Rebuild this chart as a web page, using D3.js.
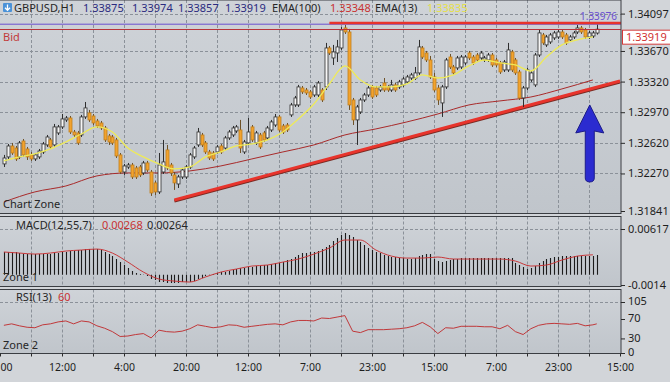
<!DOCTYPE html>
<html>
<head>
<meta charset="utf-8">
<script src="https://d3js.org/d3.v7.min.js"></script>
<style>
  html, body { margin: 0; padding: 0; background: #d2d5d9; }
  svg { display: block; font-family: "Noto Sans", "Open Sans", sans-serif; }
</style>
</head>
<body>
<svg id="chart" width="670" height="382"></svg>
<script>
// ---- data ----
// one row per H1 bar: [open, high, low, close]
const candles = [
  [1.32379,1.32482,1.32344,1.32447],[1.32459,1.32607,1.32436,1.32584],[1.32584,1.32619,1.32482,1.32504],[1.32561,1.32584,1.32413,1.32436],[1.32459,1.32641,1.32436,1.32619],
  [1.32641,1.32664,1.32459,1.32482],[1.32550,1.32573,1.32424,1.32459],[1.32482,1.32516,1.32413,1.32436],[1.32436,1.32504,1.32413,1.32482],[1.32459,1.32550,1.32436,1.32527],
  [1.32516,1.32630,1.32493,1.32607],[1.32596,1.32710,1.32573,1.32687],[1.32653,1.32676,1.32550,1.32573],[1.32596,1.32836,1.32573,1.32802],[1.32733,1.32824,1.32710,1.32802],
  [1.32802,1.32950,1.32779,1.32893],[1.32882,1.32927,1.32859,1.32904],[1.32904,1.32927,1.32721,1.32744],[1.32744,1.32767,1.32687,1.32710],[1.32733,1.32756,1.32596,1.32619],
  [1.32710,1.32939,1.32687,1.32916],[1.32916,1.33087,1.32893,1.33019],[1.32962,1.32996,1.32859,1.32882],[1.32927,1.32950,1.32824,1.32847],[1.32870,1.32893,1.32790,1.32813],
  [1.32847,1.32870,1.32767,1.32790],[1.32790,1.32813,1.32630,1.32653],[1.32699,1.32721,1.32596,1.32630],[1.32687,1.32710,1.32596,1.32619],[1.32653,1.32676,1.32447,1.32470],
  [1.32482,1.32504,1.32264,1.32287],[1.32287,1.32379,1.32253,1.32356],[1.32344,1.32390,1.32322,1.32367],[1.32367,1.32390,1.32207,1.32230],[1.32333,1.32356,1.32207,1.32230],
  [1.32344,1.32367,1.32230,1.32253],[1.32276,1.32413,1.32253,1.32390],[1.32390,1.32413,1.32287,1.32310],[1.32287,1.32310,1.32013,1.32047],[1.32162,1.32184,1.32024,1.32059],
  [1.32059,1.32504,1.32036,1.32367],[1.32287,1.32653,1.32264,1.32402],[1.32539,1.32596,1.32310,1.32333],[1.32367,1.32390,1.32242,1.32276],[1.32253,1.32287,1.32082,1.32162],
  [1.32150,1.32253,1.32104,1.32230],[1.32230,1.32333,1.32207,1.32310],[1.32230,1.32367,1.32207,1.32344],[1.32344,1.32504,1.32322,1.32482],[1.32459,1.32584,1.32436,1.32561],
  [1.32596,1.32790,1.32573,1.32744],[1.32710,1.32733,1.32573,1.32596],[1.32619,1.32641,1.32493,1.32516],[1.32516,1.32539,1.32424,1.32447],[1.32504,1.32527,1.32413,1.32436],
  [1.32516,1.32596,1.32493,1.32573],[1.32584,1.32607,1.32493,1.32516],[1.32561,1.32699,1.32539,1.32676],[1.32676,1.32767,1.32653,1.32744],[1.32710,1.32813,1.32687,1.32790],
  [1.32756,1.32824,1.32733,1.32802],[1.32767,1.32882,1.32504,1.32561],[1.32516,1.32653,1.32493,1.32630],[1.32619,1.32904,1.32596,1.32744],[1.32802,1.32824,1.32630,1.32653],
  [1.32619,1.32756,1.32596,1.32733],[1.32710,1.32733,1.32550,1.32573],[1.32733,1.32756,1.32630,1.32653],[1.32676,1.32813,1.32653,1.32790],[1.32767,1.32882,1.32744,1.32859],
  [1.32824,1.32950,1.32802,1.32916],[1.32916,1.32939,1.32744,1.32767],[1.32813,1.32836,1.32721,1.32744],[1.32824,1.32847,1.32744,1.32767],[1.32939,1.33076,1.32916,1.33053],
  [1.33053,1.33156,1.33030,1.33133],[1.33053,1.33282,1.33030,1.33259],[1.33247,1.33270,1.33179,1.33202],[1.33224,1.33247,1.33167,1.33190],[1.33202,1.33224,1.33122,1.33144],
  [1.33167,1.33282,1.33144,1.33259],[1.33167,1.33327,1.33144,1.33304],[1.33224,1.33247,1.33087,1.33110],[1.33259,1.33762,1.33224,1.33704],[1.33704,1.33727,1.33624,1.33647],
  [1.33590,1.33739,1.33510,1.33659],[1.33647,1.33796,1.33544,1.33716],[1.33704,1.33944,1.33682,1.33910],[1.33933,1.33967,1.33864,1.33887],[1.33887,1.33922,1.32996,1.33053],
  [1.33110,1.33133,1.32824,1.32882],[1.32882,1.33053,1.32596,1.33030],[1.32973,1.33133,1.32950,1.33110],[1.33110,1.33190,1.33087,1.33167],[1.33167,1.33270,1.33144,1.33247],
  [1.33259,1.33282,1.33122,1.33144],[1.33247,1.33270,1.33144,1.33167],[1.33224,1.33282,1.33202,1.33259],[1.33304,1.33361,1.33202,1.33224],[1.33259,1.33282,1.33202,1.33224],
  [1.33224,1.33339,1.33202,1.33282],[1.33282,1.33304,1.33202,1.33224],[1.33259,1.33339,1.33236,1.33316],[1.33282,1.33373,1.33259,1.33350],[1.33316,1.33396,1.33293,1.33373],
  [1.33361,1.33419,1.33339,1.33396],[1.33361,1.33487,1.33339,1.33419],[1.33419,1.33796,1.33396,1.33716],[1.33704,1.33727,1.33579,1.33601],[1.33647,1.33670,1.33544,1.33567],
  [1.33567,1.33613,1.33350,1.33373],[1.33373,1.33419,1.33202,1.33224],[1.33247,1.33282,1.33053,1.33110],[1.33076,1.33282,1.32916,1.33259],[1.33259,1.33590,1.33236,1.33567],
  [1.33601,1.33636,1.33464,1.33487],[1.33487,1.33510,1.33396,1.33419],[1.33476,1.33613,1.33453,1.33590],[1.33487,1.33624,1.33464,1.33601],[1.33533,1.33624,1.33510,1.33601],
  [1.33647,1.33670,1.33567,1.33590],[1.33601,1.33624,1.33510,1.33533],[1.33624,1.33647,1.33544,1.33567],[1.33590,1.33670,1.33567,1.33647],[1.33567,1.33613,1.33544,1.33590],
  [1.33567,1.33647,1.33544,1.33624],[1.33624,1.33647,1.33487,1.33510],[1.33567,1.33590,1.33487,1.33510],[1.33533,1.33556,1.33407,1.33430],[1.33453,1.33567,1.33430,1.33544],
  [1.33453,1.33762,1.33430,1.33682],[1.33659,1.33682,1.33430,1.33453],[1.33567,1.33590,1.33396,1.33419],[1.33430,1.33453,1.33110,1.33133],[1.33133,1.33270,1.33030,1.33247],
  [1.33247,1.33476,1.33224,1.33453],[1.33339,1.33441,1.33316,1.33419],[1.33282,1.33647,1.33259,1.33624],[1.33624,1.33910,1.33601,1.33876],[1.33853,1.33876,1.33739,1.33762],
  [1.33739,1.33853,1.33716,1.33830],[1.33773,1.33876,1.33750,1.33853],[1.33819,1.33899,1.33796,1.33876],[1.33830,1.33910,1.33807,1.33887],[1.33887,1.33910,1.33807,1.33830],
  [1.33853,1.33876,1.33739,1.33762],[1.33796,1.33853,1.33773,1.33830],[1.33830,1.33899,1.33807,1.33876],[1.33887,1.33967,1.33864,1.33933],[1.33933,1.33956,1.33864,1.33887],
  [1.33910,1.33933,1.33807,1.33830],[1.33830,1.33899,1.33807,1.33876],[1.33841,1.33899,1.33819,1.33876],[1.33875,1.33974,1.33857,1.33919]
];

// EMA(13), read every 4th bar
const ema13 = [1.32413,1.32459,1.32493,1.32550,1.32630,1.32721,1.32802,1.32744,1.32561,1.32459,
  1.32379,1.32322,1.32344,1.32459,1.32516,1.32584,1.32607,1.32653,1.32744,1.32893,
  1.33064,1.33293,1.33499,1.33339,1.33259,1.33259,1.33293,1.33396,1.33361,1.33396,
  1.33499,1.33567,1.33533,1.33510,1.33441,1.33601,1.33739,1.33796,1.33830];
const ema13Step = 4;

// EMA(100), read every 8th bar
const ema100 = [1.31944,1.32059,1.32127,1.32242,1.32276,1.32276,1.32299,1.32356,1.32436,1.32516,
  1.32596,1.32710,1.32779,1.32859,1.32950,1.33053,1.33099,1.33144,1.33236,1.33339];
const ema100Step = 8;

// MACD(12,55,7) histogram, one per bar
const macdHist = [
  0.00306,0.00306,0.00306,0.00306,0.00292,0.00278,0.00278,0.00278,0.00278,0.00278,
  0.00278,0.00278,0.00278,0.00292,0.00292,0.00306,0.00306,0.00319,0.00319,0.00333,
  0.00333,0.00346,0.00346,0.00346,0.00346,0.00333,0.00306,0.00278,0.00251,0.00211,
  0.00170,0.00130,0.00089,0.00049,0.00022,0.00008,-0.00005,-0.00019,-0.00059,-0.00073,
  -0.00100,-0.00100,-0.00114,-0.00114,-0.00114,-0.00114,-0.00100,-0.00100,-0.00100,-0.00087,
  -0.00059,-0.00046,-0.00019,-0.00005,0.00008,0.00022,0.00035,0.00035,0.00049,0.00062,
  0.00076,0.00089,0.00089,0.00103,0.00103,0.00116,0.00116,0.00130,0.00130,0.00143,
  0.00157,0.00157,0.00170,0.00197,0.00211,0.00238,0.00265,0.00292,0.00292,0.00306,
  0.00306,0.00319,0.00346,0.00373,0.00400,0.00454,0.00495,0.00535,0.00562,0.00535,
  0.00508,0.00468,0.00441,0.00400,0.00360,0.00333,0.00306,0.00292,0.00265,0.00251,
  0.00238,0.00238,0.00224,0.00224,0.00211,0.00211,0.00224,0.00251,0.00265,0.00278,
  0.00278,0.00211,0.00184,0.00170,0.00184,0.00197,0.00211,0.00211,0.00224,0.00224,
  0.00224,0.00224,0.00224,0.00224,0.00224,0.00224,0.00224,0.00224,0.00224,0.00224,
  0.00224,0.00224,0.00157,0.00130,0.00103,0.00076,0.00089,0.00116,0.00157,0.00184,
  0.00211,0.00224,0.00238,0.00238,0.00251,0.00251,0.00251,0.00251,0.00251,0.00251,
  0.00251,0.00251,0.00251,0.00264
];

// MACD signal line, read every 4th bar
const macdSignal = [0.00306,0.00292,0.00278,0.00292,0.00319,0.00333,0.00346,0.00292,0.00170,0.00035,
  -0.00059,-0.00087,-0.00100,-0.00032,0.00035,0.00076,0.00116,0.00130,0.00170,0.00211,
  0.00278,0.00360,0.00468,0.00468,0.00333,0.00251,0.00224,0.00224,0.00238,0.00211,
  0.00211,0.00211,0.00211,0.00184,0.00116,0.00130,0.00197,0.00251,0.00268];
const signalStep = 4;

// RSI(13), read every 2nd bar (last point is the last bar)
const rsi = [57,60,56,53,52,58,60,64,66,60, 66,64,56,51,44,34,35,38,40,31,
  47,44,43,45,50,58,55,52,54,58, 57,53,55,57,59,60,58,64,67,67,
  66,72,71,74,77,45,42,48,48,48, 49,50,52,56,63,54,40,52,51,55,
  55,55,54,54,50,57,44,38,50,57, 60,61,60,59,61,56,58,60];
const rsiStep = 2;

// axis ticks
const priceTicks = [1.34097, 1.33670, 1.33320, 1.32970, 1.32620, 1.32270, 1.31841];
const macdTicks = [0.00617, -0.0014];
const macdTickLabels = ["0.00617", "-0.0014"];
const rsiTicks = [105, 70, 30, 0];
const timeTicks = d3.range(0, 21).map(k => k * 8 - 1);   // one grid line every 8 bars
const timeLabels = ["00","12:00","4:00","20:00","12:00","7:00","23:00","15:00","7:00","23:00","15:00"];

// price lines and drawn objects (in price / bar units)
const bidPrice = 1.33919;
const highMark = 1.33976;
const resistance = { from: 84, price: 1.33990 };
const trendLine = [[44, 1.31967], [159, 1.33327]];
const arrow = { bar: 151.2, tip: 1.33053, tail: 1.32173 };

// ---- layout ----
const svg = d3.select("#chart");
const plotRight = 621;
const panes = {
  main: { top: 0, bottom: 213.5 },
  macd: { top: 216.5, bottom: 286.5 },
  rsi: { top: 289.5, bottom: 353.5 }
};

const x = d3.scaleLinear().domain([-1, 159]).range([0, 620]);
const yPrice = d3.scaleLinear().domain([1.31841, 1.34097]).range([211, 13.6]);
const yMacd = d3.scaleLinear().domain([-0.0014, 0.00617]).range([285, 229]);
const yRsi = d3.scaleLinear().domain([0, 105]).range([353, 302]);

// gradient for pane backgrounds
const defs = svg.append("defs");
const grad = defs.append("linearGradient").attr("id", "paneBg").attr("x1", 0).attr("y1", 0).attr("x2", 0).attr("y2", 1);
grad.append("stop").attr("offset", "0%").attr("stop-color", "#cfd3d8");
grad.append("stop").attr("offset", "100%").attr("stop-color", "#c0c5cb");

Object.entries(panes).forEach(([name, p]) => {
  defs.append("clipPath").attr("id", "clip-" + name)
    .append("rect").attr("x", 0).attr("y", p.top).attr("width", plotRight).attr("height", p.bottom - p.top);
  svg.append("rect")
    .attr("x", 0).attr("y", p.top)
    .attr("width", plotRight).attr("height", p.bottom - p.top)
    .attr("fill", "url(#paneBg)");
});

// grid lines
const grid = svg.append("g").attr("stroke", "#8b9199").attr("stroke-dasharray", "3,2").attr("stroke-width", 1);
Object.values(panes).forEach(p => {
  grid.selectAll(null)
    .data(timeTicks.slice(1, -1))
    .enter().append("line")
    .attr("x1", d => Math.round(x(d)) + 0.5).attr("x2", d => Math.round(x(d)) + 0.5)
    .attr("y1", p.top).attr("y2", p.bottom);
});
grid.selectAll(null).data(priceTicks.slice(0, -1)).enter().append("line")
  .attr("x1", 0).attr("x2", plotRight)
  .attr("y1", d => Math.round(yPrice(d)) + 0.5).attr("y2", d => Math.round(yPrice(d)) + 0.5);
grid.append("line").attr("x1", 0).attr("x2", plotRight)
  .attr("y1", Math.round(yMacd(macdTicks[0])) + 0.5).attr("y2", Math.round(yMacd(macdTicks[0])) + 0.5);
grid.append("line").attr("x1", 0).attr("x2", plotRight)
  .attr("y1", Math.round(yRsi(rsiTicks[0])) + 0.5).attr("y2", Math.round(yRsi(rsiTicks[0])) + 0.5);

// ---- main pane ----
const main = svg.append("g").attr("clip-path", "url(#clip-main)");

// EMA(100)
main.append("path")
  .datum(ema100)
  .attr("fill", "none").attr("stroke", "#a82a2a").attr("stroke-width", 1)
  .attr("d", d3.line().x((d, i) => x(i * ema100Step)).y(d => yPrice(d)).curve(d3.curveMonotoneX));

// trend line under candles
main.append("line")
  .attr("x1", x(trendLine[0][0])).attr("y1", yPrice(trendLine[0][1]) + 1)
  .attr("x2", x(trendLine[1][0])).attr("y2", yPrice(trendLine[1][1]) + 1)
  .attr("stroke", "#7a2a22").attr("stroke-width", 3);
main.append("line")
  .attr("x1", x(trendLine[0][0])).attr("y1", yPrice(trendLine[0][1]))
  .attr("x2", x(trendLine[1][0])).attr("y2", yPrice(trendLine[1][1]))
  .attr("stroke", "#e8342c").attr("stroke-width", 3);

// candles
const bars = main.append("g").selectAll("g").data(candles).enter().append("g");
bars.append("line")
  .attr("x1", (d, i) => Math.round(x(i)) + 0.5).attr("x2", (d, i) => Math.round(x(i)) + 0.5)
  .attr("y1", d => yPrice(d[1])).attr("y2", d => yPrice(d[2]))
  .attr("stroke", d => d[3] >= d[0] ? "#2e2e2e" : "#6e5228").attr("stroke-width", 1);
bars.append("rect")
  .attr("x", (d, i) => Math.round(x(i)) - 1)
  .attr("width", 3)
  .attr("y", d => yPrice(Math.max(d[0], d[3])))
  .attr("height", d => Math.max(1, Math.abs(yPrice(d[0]) - yPrice(d[3]))))
  .attr("fill", d => d[3] >= d[0] ? "#f6f6f6" : "#f2a32e")
  .attr("stroke", d => d[3] >= d[0] ? "#2e2e2e" : "#c07e1c")
  .attr("stroke-width", 0.8);

// EMA(13)
main.append("path")
  .datum(ema13)
  .attr("fill", "none").attr("stroke", "#eeea58").attr("stroke-width", 1.3)
  .attr("d", d3.line().x((d, i) => x(i * ema13Step)).y(d => yPrice(d)).curve(d3.curveMonotoneX));

// price lines
main.append("line")
  .attr("x1", 0).attr("x2", plotRight)
  .attr("y1", yPrice(highMark)).attr("y2", yPrice(highMark))
  .attr("stroke", "#6a4fd0").attr("stroke-width", 1);
main.append("line")
  .attr("x1", x(resistance.from)).attr("x2", plotRight)
  .attr("y1", yPrice(resistance.price)).attr("y2", yPrice(resistance.price))
  .attr("stroke", "#e8342c").attr("stroke-width", 2.5);
main.append("line")
  .attr("x1", 0).attr("x2", plotRight)
  .attr("y1", Math.round(yPrice(bidPrice)) + 0.5).attr("y2", Math.round(yPrice(bidPrice)) + 0.5)
  .attr("stroke", "#b8333a").attr("stroke-width", 1);

// blue arrow
const ax = x(arrow.bar), tipY = yPrice(arrow.tip), tailY = yPrice(arrow.tail);
main.append("path")
  .attr("d", `M${ax},${tipY} L${ax + 14},${tipY + 28} L${ax + 4.5},${tipY + 26} L${ax + 4.5},${tailY - 4}
    Q${ax + 4.5},${tailY} ${ax},${tailY} Q${ax - 4.5},${tailY} ${ax - 4.5},${tailY - 4}
    L${ax - 4.5},${tipY + 26} L${ax - 14},${tipY + 28} Z`)
  .attr("fill", "#2b2bd0").attr("stroke", "#1c1c8a").attr("stroke-width", 1).attr("stroke-linejoin", "round");

// ---- MACD pane ----
const macdG = svg.append("g").attr("clip-path", "url(#clip-macd)");
macdG.selectAll("line").data(macdHist).enter().append("line")
  .attr("x1", (d, i) => Math.round(x(i)) + 0.5).attr("x2", (d, i) => Math.round(x(i)) + 0.5)
  .attr("y1", yMacd(0)).attr("y2", d => yMacd(d))
  .attr("stroke", "#1b1b1b").attr("stroke-width", 1.1);
macdG.append("path")
  .datum(macdSignal)
  .attr("fill", "none").attr("stroke", "#c8383a").attr("stroke-width", 1)
  .attr("d", d3.line().x((d, i) => x(i * signalStep)).y(d => yMacd(d)).curve(d3.curveMonotoneX));

// ---- RSI pane ----
svg.append("g").attr("clip-path", "url(#clip-rsi)").append("path")
  .datum(rsi)
  .attr("fill", "none").attr("stroke", "#c0383a").attr("stroke-width", 1)
  .attr("d", d3.line().x((d, i) => x(Math.min(i * rsiStep, candles.length - 1))).y(d => yRsi(d)));

// ---- frames ----
Object.values(panes).forEach(p => {
  svg.append("rect")
    .attr("x", -1).attr("y", p.top)
    .attr("width", plotRight + 1).attr("height", p.bottom - p.top)
    .attr("fill", "none").attr("stroke", "#3a3d42").attr("stroke-width", 1);
});

// ---- axes ----
function styleAxis(g) {
  g.select(".domain").remove();
  g.selectAll(".tick line").attr("stroke", "#2a2a2a");
  g.selectAll(".tick text").attr("fill", "#1e1e1e").style("font-size", "11px")
    .style("font-family", '"Noto Sans", "Open Sans", sans-serif');
}
svg.append("g").attr("transform", `translate(${plotRight},0)`)
  .call(d3.axisRight(yPrice).tickValues(priceTicks).tickSize(4).tickPadding(3).tickFormat(d3.format(".5f")))
  .call(styleAxis);
svg.append("g").attr("transform", `translate(${plotRight},0)`)
  .call(d3.axisRight(yMacd).tickValues(macdTicks).tickSize(4).tickPadding(3).tickFormat((d, i) => macdTickLabels[i]))
  .call(styleAxis);
svg.append("g").attr("transform", `translate(${plotRight},0)`)
  .call(d3.axisRight(yRsi).tickValues(rsiTicks).tickSize(4).tickPadding(3))
  .call(styleAxis)
  .selectAll(".tick text").attr("dy", "0.25em");
const xAxis = svg.append("g").attr("transform", `translate(0,${panes.rsi.bottom})`)
  .call(d3.axisBottom(x).tickValues(timeTicks).tickSize(3).tickPadding(7)
    .tickFormat((d, i) => i % 2 === 0 ? timeLabels[i / 2] : ""))
  .call(styleAxis);
xAxis.selectAll(".tick text").style("font-size", "10.5px");
xAxis.select(".tick text").attr("text-anchor", "start").attr("x", 0);

// bid label box on the price scale
const bidY = yPrice(bidPrice);
svg.append("rect")
  .attr("x", 622.5).attr("y", bidY + 1).attr("width", 48).attr("height", 14)
  .attr("fill", "#ffffff").attr("stroke", "#d43a3a").attr("stroke-width", 1);
svg.append("text").attr("x", 626).attr("y", bidY + 12)
  .attr("fill", "#d03232").style("font-size", "11px").text(d3.format(".5f")(bidPrice));
svg.append("text").attr("x", 617).attr("y", yPrice(highMark) - 4).attr("text-anchor", "end")
  .attr("fill", "#6a4fd0").style("font-size", "10px").text(d3.format(".5f")(highMark));

// ---- header and zone labels ----
const hdr = svg.append("g").style("font-size", "11px");
const icon = hdr.append("g").attr("transform", "translate(3,3)");
icon.append("rect").attr("width", 9).attr("height", 9).attr("rx", 1).attr("fill", "#4b92d8");
icon.append("path").attr("d", "M4.5,1.5 V7 M2,4.8 L4.5,7.3 L7,4.8").attr("stroke", "#fff").attr("stroke-width", 1.3).attr("fill", "none");

const headerItems = [
  { text: "GBPUSD,H1", x: 14, fill: "#262626" },
  { text: "1.33875", x: 83, fill: "#2b2b80" },
  { text: "1.33974", x: 132, fill: "#2b2b80" },
  { text: "1.33857", x: 178, fill: "#2b2b80" },
  { text: "1.33919", x: 225, fill: "#2b2b80" },
  { text: "EMA(100)", x: 272, fill: "#262626" },
  { text: "1.33348", x: 330, fill: "#c83232" },
  { text: "EMA(13)", x: 375, fill: "#262626" },
  { text: "1.33835", x: 427, fill: "#e6e04a" }
];
hdr.selectAll("text.h").data(headerItems).enter().append("text")
  .attr("x", d => d.x).attr("y", 12).attr("fill", d => d.fill).text(d => d.text);

const paneLabels = [
  { text: "Bid", x: 3, y: 41, fill: "#c23a3a" },
  { text: "Chart Zone", x: 3, y: 208, fill: "#262626" },
  { text: "MACD(12,55,7)", x: 16, y: 229, fill: "#262626" },
  { text: "0.00268", x: 102, y: 229, fill: "#c83232" },
  { text: "0.00264", x: 147, y: 229, fill: "#262626" },
  { text: "Zone 1", x: 3, y: 281, fill: "#262626" },
  { text: "RSI(13)", x: 16, y: 301, fill: "#262626" },
  { text: "60", x: 58, y: 301, fill: "#c83232" },
  { text: "Zone 2", x: 3, y: 349, fill: "#262626" }
];
svg.append("g").style("font-size", "11px").selectAll("text").data(paneLabels).enter().append("text")
  .attr("x", d => d.x).attr("y", d => d.y).attr("fill", d => d.fill).text(d => d.text);
</script>
</body>
</html>
